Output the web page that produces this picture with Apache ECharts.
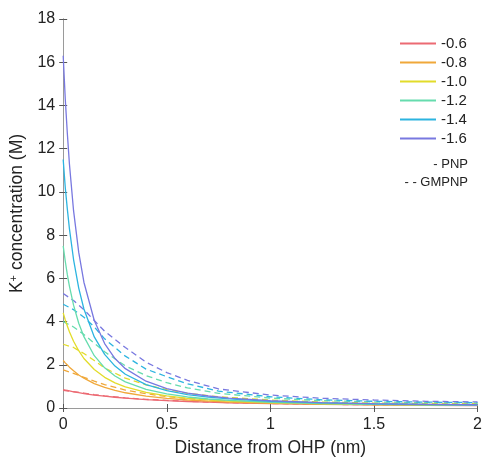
<!DOCTYPE html>
<html>
<head>
<meta charset="utf-8">
<script src="https://cdn.jsdelivr.net/npm/echarts@6/dist/echarts.min.js"></script>
<style>
  html, body { margin: 0; padding: 0; background: #fff; }
  #chart { width: 485px; height: 462px; }
</style>
</head>
<body>
<div id="chart"></div>
<script>
// electrode potentials (V)
const labels = ['-0.6', '-0.8', '-1.0', '-1.2', '-1.4', '-1.6']
const colors = ['#ec6a73', '#f0a83a', '#e2dc2a', '#66dcae', '#2cb4e0', '#7878e0']

// distance from OHP (nm)
const xPnp = [0, 0.01, 0.02, 0.03, 0.05, 0.075, 0.1, 0.15, 0.2, 0.25, 0.3, 0.4, 0.5, 0.6, 0.7, 0.8, 1.0, 1.25, 1.5, 1.75, 2.0]
const xGmpnp = [0, 0.05, 0.1, 0.15, 0.2, 0.3, 0.4, 0.5, 0.6, 0.75, 1.0, 1.25, 1.5, 1.75, 2.0]

// PNP (solid), K+ concentration (M)
const pnp06 = [0.85, 0.83, 0.81, 0.79, 0.75, 0.71, 0.67, 0.60, 0.545, 0.497, 0.456, 0.39, 0.34, 0.30, 0.27, 0.244, 0.205, 0.17, 0.145, 0.125, 0.11]
const pnp08 = [2.2, 2.09, 1.99, 1.89, 1.72, 1.53, 1.38, 1.13, 0.95, 0.813, 0.705, 0.55, 0.444, 0.37, 0.316, 0.276, 0.22, 0.179, 0.154, 0.138, 0.127]
const pnp10 = [4.4, 4.07, 3.79, 3.53, 3.09, 2.65, 2.29, 1.78, 1.42, 1.16, 0.975, 0.72, 0.56, 0.45, 0.375, 0.32, 0.247, 0.194, 0.163, 0.145, 0.131]
const pnp12 = [7.5, 6.79, 6.17, 5.64, 4.76, 3.92, 3.30, 2.42, 1.86, 1.48, 1.21, 0.86, 0.65, 0.51, 0.417, 0.35, 0.265, 0.20, 0.17, 0.148, 0.133]
const pnp14 = [11.5, 10.2, 9.2, 8.3, 6.87, 5.55, 4.58, 3.29, 2.48, 1.94, 1.56, 1.08, 0.80, 0.62, 0.504, 0.42, 0.31, 0.234, 0.19, 0.163, 0.145]
const pnp16 = [16.3, 14.3, 12.7, 11.3, 9.13, 7.20, 5.82, 4.05, 2.98, 2.29, 1.82, 1.24, 0.90, 0.69, 0.556, 0.46, 0.335, 0.25, 0.20, 0.17, 0.15]

// GMPNP (dashed)
const gm06 = [0.82, 0.76, 0.69, 0.62, 0.56, 0.47, 0.40, 0.35, 0.31, 0.26, 0.21, 0.17, 0.15, 0.13, 0.12]
const gm08 = [1.76, 1.6, 1.42, 1.24, 1.08, 0.83, 0.66, 0.53, 0.44, 0.35, 0.26, 0.21, 0.18, 0.165, 0.155]
const gm10 = [2.95, 2.8, 2.52, 2.2, 1.85, 1.38, 1.07, 0.85, 0.68, 0.52, 0.37, 0.28, 0.23, 0.21, 0.20]
const gm12 = [4.0, 3.75, 3.4, 3.0, 2.6, 1.95, 1.5, 1.17, 0.93, 0.68, 0.46, 0.34, 0.28, 0.25, 0.23]
const gm14 = [4.8, 4.55, 4.2, 3.75, 3.2, 2.4, 1.8, 1.45, 1.12, 0.78, 0.52, 0.38, 0.31, 0.27, 0.25]
const gm16 = [5.3, 4.97, 4.55, 4.05, 3.55, 2.8, 2.12, 1.64, 1.28, 0.88, 0.6, 0.45, 0.37, 0.31, 0.28]

const pnpSets = [pnp06, pnp08, pnp10, pnp12, pnp14, pnp16]
const gmSets = [gm06, gm08, gm10, gm12, gm14, gm16]

const FONT = 'Liberation Sans, Arial, sans-serif'

const series = []
pnpSets.forEach(function (ys, i) {
  series.push({
    name: labels[i],
    type: 'line',
    symbol: 'none',
    lineStyle: { color: colors[i], width: 1.3 },
    itemStyle: { color: colors[i] },
    data: xPnp.map(function (x, k) { return [x, ys[k]] }),
    z: 3
  })
})
gmSets.forEach(function (ys, i) {
  series.push({
    name: 'GMPNP ' + labels[i],
    type: 'line',
    symbol: 'none',
    lineStyle: { color: colors[i], width: 1.3, type: [6, 4] },
    itemStyle: { color: colors[i] },
    data: xGmpnp.map(function (x, k) { return [x, ys[k]] }),
    z: 2
  })
})

const chart = echarts.init(document.getElementById('chart'))
const option = {
  backgroundColor: '#fff',
  animation: false,
  textStyle: { fontFamily: FONT },
  grid: { left: 61, right: 3, top: 19, bottom: 51 },
  legend: {
    data: labels,
    orient: 'vertical',
    left: 400,
    top: 36,
    padding: 0,
    icon: 'rect',
    itemWidth: 36,
    itemHeight: 2,
    itemGap: 4,
    textStyle: { fontSize: 15, color: '#222', fontFamily: FONT }
  },
  xAxis: [
    {
      type: 'value',
      min: 0,
      max: 2,
      interval: 0.5,
      name: 'Distance from OHP (nm)',
      nameLocation: 'middle',
      nameGap: 31,
      nameTextStyle: { fontSize: 17.5, color: '#222', fontFamily: FONT },
      axisLine: { lineStyle: { color: '#9a9a9a', width: 1 } },
      axisTick: { inside: true, length: 4, lineStyle: { color: '#555' } },
      axisLabel: { fontSize: 16, color: '#222', margin: 9, fontFamily: FONT },
      splitLine: { show: false }
    },
    {
      type: 'value',
      position: 'top',
      min: 0,
      max: 2,
      interval: 0.5,
      axisLine: { show: true, lineStyle: { color: '#9a9a9a', width: 1 } },
      axisTick: { inside: true, length: 4, lineStyle: { color: '#555' } },
      axisLabel: { show: false },
      splitLine: { show: false }
    }
  ],
  yAxis: [
    {
      type: 'value',
      min: 0,
      max: 18,
      interval: 2,
      name: 'K{sup|+} concentration (M)',
      nameLocation: 'middle',
      nameGap: 33,
      nameTextStyle: {
        fontSize: 17.5,
        color: '#222',
        fontFamily: FONT,
        rich: { sup: { fontSize: 11, verticalAlign: 'top', color: '#222', fontFamily: FONT, padding: [0, 0, 8, 0] } }
      },
      axisLine: { show: true, lineStyle: { color: '#9a9a9a', width: 1 } },
      axisTick: { show: true, inside: true, length: 4, lineStyle: { color: '#555' } },
      axisLabel: { fontSize: 16, color: '#222', margin: 8, fontFamily: FONT },
      splitLine: { show: false }
    },
    {
      type: 'value',
      position: 'right',
      min: 0,
      max: 18,
      interval: 2,
      axisLine: { show: true, lineStyle: { color: '#9a9a9a', width: 1 } },
      axisTick: { show: true, inside: true, length: 4, lineStyle: { color: '#555' } },
      axisLabel: { show: false },
      splitLine: { show: false }
    }
  ],
  graphic: [
    {
      type: 'text',
      right: 17,
      top: 158,
      style: { text: '- PNP', fontSize: 13, fill: '#222', fontFamily: FONT, textAlign: 'right' }
    },
    {
      type: 'text',
      right: 17,
      top: 176,
      style: { text: '- - GMPNP', fontSize: 13, fill: '#222', fontFamily: FONT, textAlign: 'right' }
    }
  ],
  series: series
}
chart.setOption(option)
</script>
</body>
</html>
